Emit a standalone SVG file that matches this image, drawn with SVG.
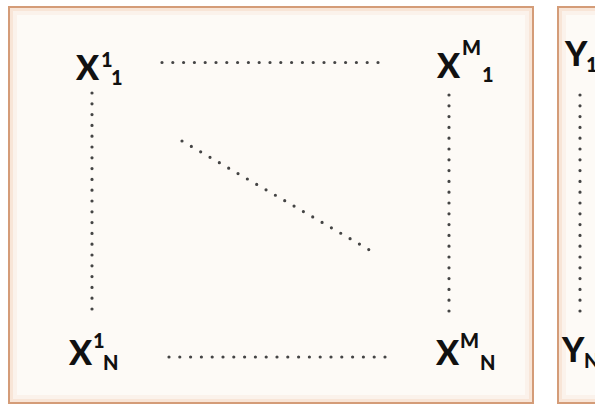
<svg xmlns="http://www.w3.org/2000/svg" width="595" height="405" viewBox="0 0 595 405">
  <style>
    .panel { fill: #fdfaf6; stroke: #d49c78; stroke-width: 2; }
    .glow1 { fill: none; stroke: #f2cdb2; stroke-width: 3; opacity: 0.45; }
    .glow2 { fill: none; stroke: #f7e0cf; stroke-width: 4; opacity: 0.3; }
    .big { font-family: Lato, "Open Sans", "Liberation Sans", sans-serif; font-weight: 900; font-size: 34px; fill: #111; }
    .small { font-family: Lato, "Open Sans", "Liberation Sans", sans-serif; font-weight: 900; font-size: 20px; fill: #111; }
    .dots { fill: none; stroke: #444444; stroke-width: 3.2; stroke-linecap: round; stroke-dasharray: 0 10.8; }
  </style>
  <rect width="595" height="405" fill="#ffffff"/>
  <g id="panel-x">
    <rect class="panel" x="9" y="7" width="524" height="396"/>
    <rect class="glow1" x="11.5" y="9.5" width="519" height="391"/>
    <rect class="glow2" x="15" y="13" width="512" height="384"/>
  </g>
  <g id="panel-y">
    <rect class="panel" x="558" y="7" width="60" height="396"/>
    <rect class="glow1" x="560.5" y="9.5" width="60" height="391"/>
    <rect class="glow2" x="564" y="13" width="60" height="384"/>
  </g>
  <g id="connectors">
    <line class="dots" x1="162" y1="62.5" x2="384" y2="62.5"/>
    <line class="dots" x1="169" y1="357" x2="390" y2="357"/>
    <line class="dots" x1="92" y1="93" x2="92" y2="315"/>
    <line class="dots" x1="449" y1="95" x2="449" y2="315"/>
    <line class="dots" x1="182" y1="141" x2="373" y2="252"/>
    <line class="dots" x1="580" y1="95" x2="580" y2="315"/>
  </g>
  <g id="x-1-1">
    <text class="big" x="76" y="80">X</text>
    <text class="small" x="101" y="67">1</text>
    <text class="small" x="111" y="85">1</text>
  </g>
  <g id="x-m-1">
    <text class="big" x="437" y="78">X</text>
    <text class="small" x="462" y="55">M</text>
    <text class="small" x="482" y="82">1</text>
  </g>
  <g id="x-1-n">
    <text class="big" x="69" y="365">X</text>
    <text class="small" x="93" y="348">1</text>
    <text class="small" x="103" y="370">N</text>
  </g>
  <g id="x-m-n">
    <text class="big" x="436" y="365">X</text>
    <text class="small" x="460" y="348">M</text>
    <text class="small" x="480" y="370">N</text>
  </g>
  <g id="y-1">
    <text class="big" x="565" y="66">Y</text>
    <text class="small" x="586" y="72">1</text>
  </g>
  <g id="y-n">
    <text class="big" x="562" y="362">Y</text>
    <text class="small" x="584" y="368">N</text>
  </g>
</svg>
